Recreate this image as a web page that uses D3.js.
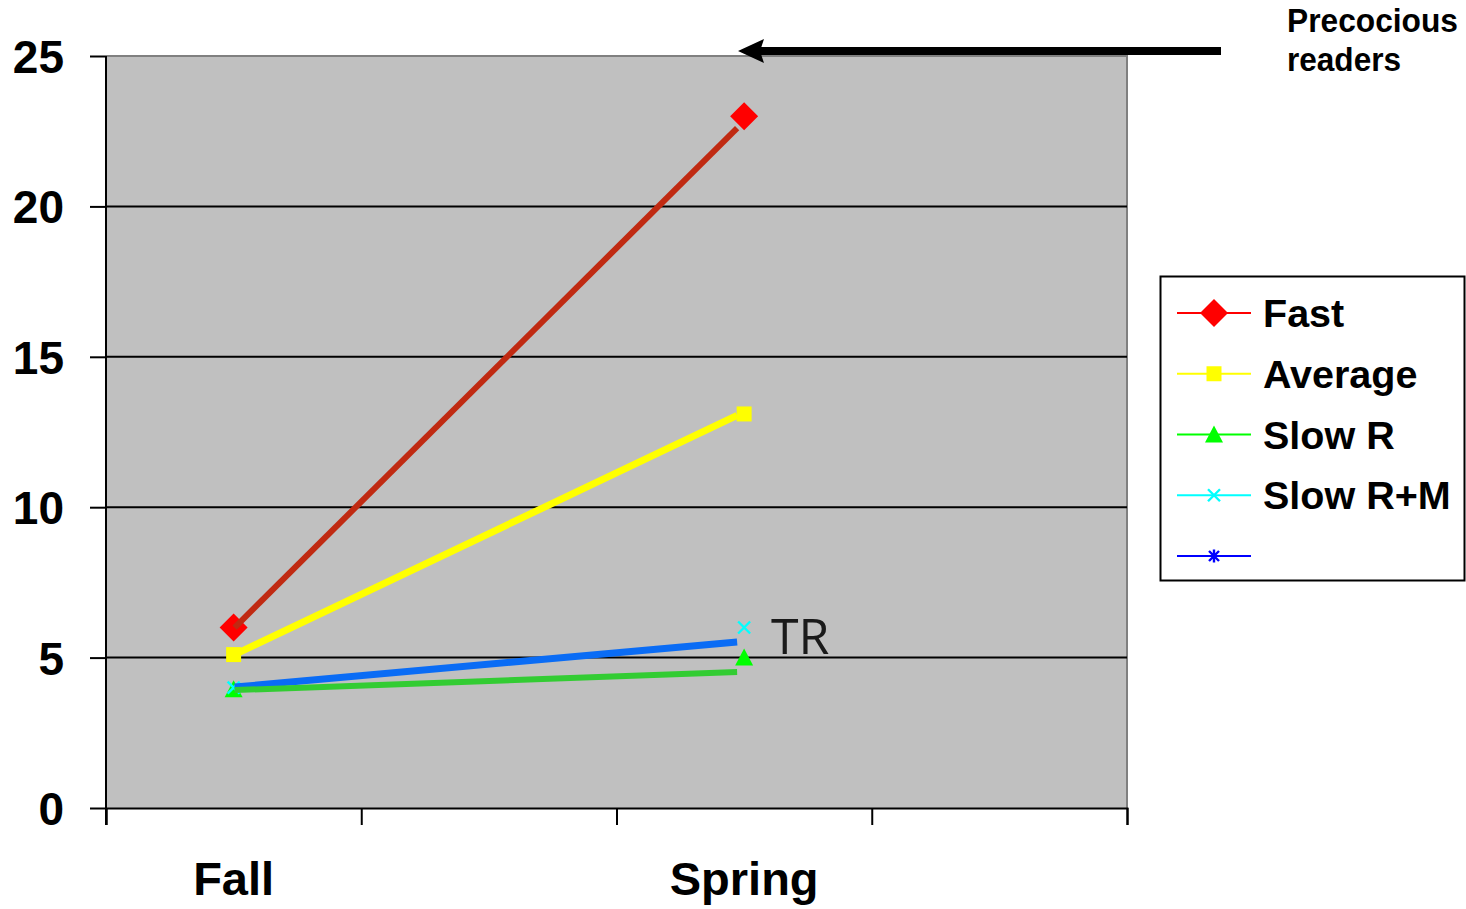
<!DOCTYPE html>
<html>
<head>
<meta charset="utf-8">
<script src="https://cdn.jsdelivr.net/npm/d3@7"></script>
<style>
  html, body { margin: 0; padding: 0; background: #ffffff; }
  svg { display: block; }
</style>
</head>
<body>
<svg id="chart" width="1466" height="909"></svg>
<script>
// ---------------- data ----------------
const categories = ["Fall", "gapA", "Spring", "gapB"];
const categoryLabels = ["Fall", "", "Spring", ""];
const yTicks = [0, 5, 10, 15, 20, 25];

const seriesNames = ["Fast", "Average", "Slow R", "Slow R+M", ""];
const fastValues = [6, null, 23, null];
const averageValues = [5.1, null, 13.1, null];
const slowRValues = [3.95, null, 5.0, null];
const slowRMValues = [4.0, null, 6.0, null];
const blankValues = [null, null, null, null];

// hand-drawn trend strokes (Fall value -> value at end near Spring)
const trendNames = ["Fast", "Average", "Slow R+M", "Slow R"];
const trendFall = [6.0, 5.1, 4.02, 3.92];
const trendSpring = [22.6, 13.05, 5.52, 4.52];

const annotationArrowLabel = ["Precocious", "readers"];
const annotationTR = "TR";

// ---------------- styles ----------------
const seriesColors = ["#ff0000", "#ffff00", "#00ff00", "#00ffff", "#0000ff"];
const seriesShapes = ["diamond", "square", "triangle", "x", "star"];
const trendColors = ["#c02a12", "#ffff00", "#0a6cf5", "#33cc33"];
const trendWidths = [6, 7, 7, 6];
const boldFont = "'Liberation Sans', Arial, Helvetica, sans-serif";

const svg = d3.select("#chart");
const plot = { left: 106, right: 1127, top: 56, bottom: 808 };

const x = d3.scaleBand().domain(categories).range([plot.left, plot.right]).padding(0);
const y = d3.scaleLinear().domain([0, 25]).range([plot.bottom, plot.top]);
const xBoundary = d3.scaleLinear().domain([0, categories.length]).range([plot.left, plot.right]);
const cx = c => x(c) + x.bandwidth() / 2;

// plot background
svg.append("rect")
  .attr("x", plot.left).attr("y", plot.top)
  .attr("width", plot.right - plot.left).attr("height", plot.bottom - plot.top)
  .attr("fill", "#c0c0c0");

// top/right gray border
svg.append("path")
  .attr("d", `M${plot.left},${plot.top}H${plot.right}V${plot.bottom}`)
  .attr("fill", "none").attr("stroke", "#808080").attr("stroke-width", 2);

// gridlines
svg.append("g").selectAll("line")
  .data(yTicks.filter(v => v > 0 && v < 25))
  .join("line")
  .attr("x1", plot.left).attr("x2", plot.right)
  .attr("y1", d => y(d)).attr("y2", d => y(d))
  .attr("stroke", "#000").attr("stroke-width", 2);

// y axis
const yAxis = svg.append("g")
  .attr("transform", `translate(${plot.left},0)`)
  .call(d3.axisLeft(y).tickValues(yTicks).tickSize(16).tickPadding(26).tickFormat(d3.format("d")));
yAxis.select(".domain").remove();
yAxis.selectAll(".tick line").attr("stroke", "#000").attr("stroke-width", 2);
yAxis.selectAll(".tick text")
  .attr("font-family", boldFont).attr("font-weight", "bold")
  .attr("font-size", 46).attr("fill", "#000").attr("dy", "0.36em");

// left axis line
svg.append("line")
  .attr("x1", plot.left).attr("x2", plot.left)
  .attr("y1", plot.top).attr("y2", plot.bottom + 17)
  .attr("stroke", "#000").attr("stroke-width", 2);

// x axis boundary ticks
const xTickAxis = svg.append("g")
  .attr("transform", `translate(0,${plot.bottom})`)
  .call(d3.axisBottom(xBoundary).ticks(categories.length).tickSize(17).tickFormat(""));
xTickAxis.select(".domain").attr("stroke", "#000").attr("stroke-width", 2);
xTickAxis.selectAll(".tick line").attr("stroke", "#000").attr("stroke-width", 2);

// x axis labels
const xLabelAxis = svg.append("g")
  .attr("transform", `translate(0,${plot.bottom})`)
  .call(d3.axisBottom(x).tickSize(0).tickFormat((d, i) => categoryLabels[i]));
xLabelAxis.select(".domain").remove();
xLabelAxis.selectAll(".tick text")
  .attr("font-family", boldFont).attr("font-weight", "bold")
  .attr("font-size", 47).attr("fill", "#000")
  .attr("y", 87).attr("dy", 0);

// ---------------- marker shapes ----------------
function markerPath(shape) {
  switch (shape) {
    case "diamond": return "M0,-14L14,0L0,14L-14,0Z";
    case "square": return "M-7.5,-7.5H7.5V7.5H-7.5Z";
    case "triangle": return "M0,-9L9,8H-9Z";
    case "x": return "M-6,-6L6,6M-6,6L6,-6";
    case "star": return "M-5,-5L5,5M-5,5L5,-5M0,-6.5V6.5";
  }
}
function drawMarker(g, shape, color) {
  const p = g.append("path").attr("d", markerPath(shape));
  if (shape === "x" || shape === "star") {
    p.attr("fill", "none").attr("stroke", color).attr("stroke-width", 2.4);
  } else {
    p.attr("fill", color).attr("stroke", "none");
  }
}

// ---------------- series markers ----------------
const allSeries = [fastValues, averageValues, slowRValues, slowRMValues, blankValues];
allSeries.forEach((vals, si) => {
  vals.forEach((v, ci) => {
    if (v === null) return;
    const g = svg.append("g").attr("transform", `translate(${cx(categories[ci])},${y(v)})`);
    drawMarker(g, seriesShapes[si], seriesColors[si]);
  });
});

// ---------------- trend strokes ----------------
const trendEndOffset = -7;
trendNames.forEach((n, i) => {
  svg.append("line")
    .attr("x1", cx("Fall") + 1).attr("y1", y(trendFall[i]))
    .attr("x2", cx("Spring") + trendEndOffset).attr("y2", y(trendSpring[i]))
    .attr("stroke", trendColors[i]).attr("stroke-width", trendWidths[i]);
});

// TR label
svg.append("text")
  .attr("x", 771).attr("y", 654)
  .attr("font-family", "'Open Sans', 'DejaVu Sans', sans-serif")
  .attr("font-size", 50).attr("fill", "#1a1a1a")
  .text(annotationTR);

// ---------------- arrow annotation ----------------
svg.append("line")
  .attr("x1", 1221).attr("x2", 758).attr("y1", 51).attr("y2", 51)
  .attr("stroke", "#000").attr("stroke-width", 8);
svg.append("path")
  .attr("d", "M738,51L764,39L760,51L764,63Z")
  .attr("fill", "#000");

const arrowText = svg.append("g")
  .attr("font-family", boldFont).attr("font-weight", "bold")
  .attr("font-size", 33).attr("fill", "#000");
arrowText.append("text").attr("x", 1287).attr("y", 32)
  .attr("textLength", 171).attr("lengthAdjust", "spacingAndGlyphs")
  .text(annotationArrowLabel[0]);
arrowText.append("text").attr("x", 1287).attr("y", 71)
  .attr("textLength", 114).attr("lengthAdjust", "spacingAndGlyphs")
  .text(annotationArrowLabel[1]);

// ---------------- legend ----------------
const legend = svg.append("g");
legend.append("rect")
  .attr("x", 1160.5).attr("y", 276.5).attr("width", 304).attr("height", 304)
  .attr("fill", "#fff").attr("stroke", "#000").attr("stroke-width", 2);

const legendY = d3.scaleLinear().domain([0, 4]).range([313, 556]);
seriesNames.forEach((name, i) => {
  const ly = legendY(i);
  legend.append("line")
    .attr("x1", 1177).attr("x2", 1251).attr("y1", ly).attr("y2", ly)
    .attr("stroke", seriesColors[i]).attr("stroke-width", 2);
  const g = legend.append("g").attr("transform", `translate(1214,${ly})`);
  drawMarker(g, seriesShapes[i], seriesColors[i]);
  legend.append("text")
    .attr("x", 1263).attr("y", ly).attr("dy", "0.36em")
    .attr("font-family", boldFont).attr("font-weight", "bold")
    .attr("font-size", 39.5).attr("fill", "#000")
    .text(name);
});
</script>
</body>
</html>
